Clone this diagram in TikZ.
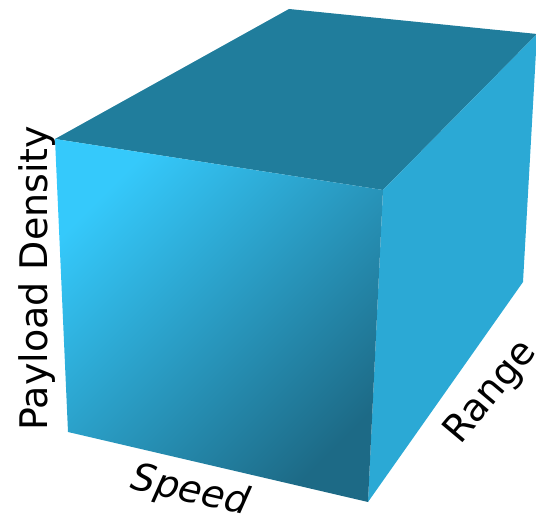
\documentclass[tikz,border=0pt]{standalone}
\usepackage{fontspec}
\setmainfont{DejaVu Sans}
\definecolor{topc}{HTML}{207D9C}
\definecolor{sidec}{HTML}{2BA9D5}
\definecolor{frontlight}{HTML}{35C9FB}
\definecolor{frontmid}{HTML}{2AA4CF}
\definecolor{frontdark}{HTML}{1D6A86}
\tikzset{
  axislabel/.style={font=\fontsize{38}{44}\selectfont, text=black, inner sep=0pt}
}
\begin{document}
\begin{tikzpicture}[x=1pt,y=1pt]
\useasboundingbox (0,0) rectangle (536,-521);
\begin{scope}
\clip (0,0) rectangle (536,-521);
% vertices
\coordinate (tl) at (55,-139);
\coordinate (tb) at (289,-9);
\coordinate (tr) at (537,-34);
\coordinate (tf) at (383,-190);
\coordinate (bl) at (68,-432);
\coordinate (bf) at (368,-502);
\coordinate (br) at (523,-282);
% top face
\fill[topc] (tl) -- (tb) -- (tr) -- (tf) -- cycle;
% right face
\fill[sidec] (tf) -- (tr) -- (br) -- (bf) -- cycle;
% front face
\shade[left color=frontlight, middle color=frontmid, right color=frontdark, shading angle=45]
  (tl) -- (tf) -- (bf) -- (bl) -- cycle;
\end{scope}
% labels
\node[axislabel, rotate=90, anchor=base] (pd) at (47,-278) {Payload Density};
\node[axislabel, rotate=-13, anchor=base, font=\fontsize{38}{44}\selectfont\itshape] (sp) at (188,-502) {Speed};
\node[axislabel, rotate=50, anchor=base] (rg) at (499,-399) {Range};
\end{tikzpicture}
\end{document}
